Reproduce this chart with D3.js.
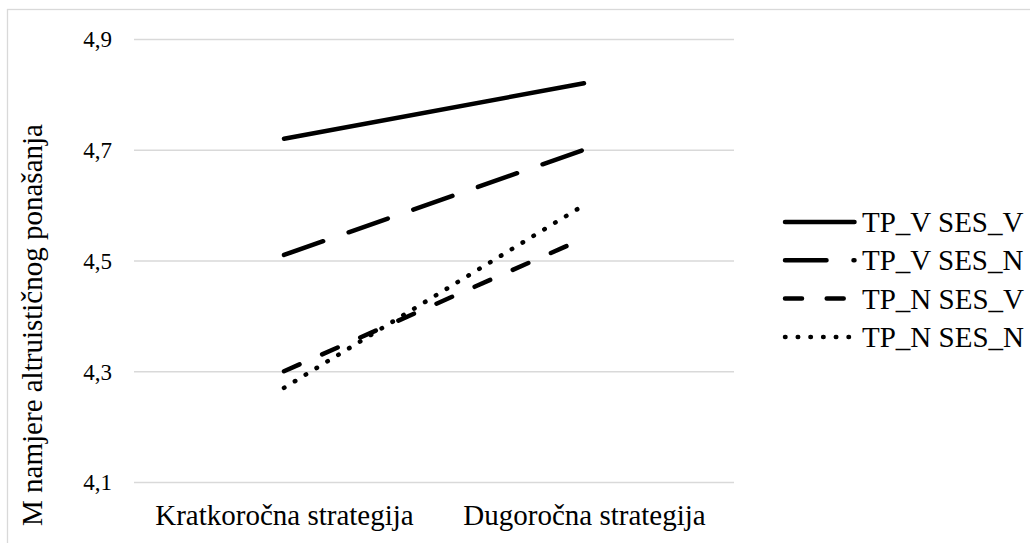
<!DOCTYPE html>
<html>
<head>
<meta charset="utf-8">
<script src="https://cdn.jsdelivr.net/npm/d3@7"></script>
<style>
  html, body { margin: 0; padding: 0; background: #fff; }
  svg { display: block; font-family: "Liberation Serif", "Times New Roman", serif; }
</style>
</head>
<body>
<svg id="chart"></svg>
<script>
// podaci
const kategorije = ["Kratkoročna strategija", "Dugoročna strategija"]
const serije = ["TP_V SES_V", "TP_V SES_N", "TP_N SES_V", "TP_N SES_N"]
const tpvSesv = [4.72, 4.82]
const tpvSesn = [4.51, 4.70]
const tpnSesv = [4.30, 4.54]
const tpnSesn = [4.27, 4.60]
const yTicks = [4.1, 4.3, 4.5, 4.7, 4.9]

const vrijednosti = [tpvSesv, tpvSesn, tpnSesv, tpnSesn]
// crtkanje linija (solid, long dash, dash, round dot)
const crtice = [null, "41.5 27", "17 24.7", "0.5 12.2"]

const svgWidth = 1030
const svgHeight = 543
const margin = { left: 134, right: 300, top: 39, bottom: 61 }
const font = '"Liberation Serif", "Times New Roman", serif'

const svg = d3.select("#chart")
    .attr("width", svgWidth)
    .attr("height", svgHeight)

// okvir grafikona
svg.append("rect")
    .attr("x", 7.5).attr("y", 9.5)
    .attr("width", svgWidth).attr("height", svgHeight)
    .attr("fill", "none")
    .attr("stroke", "#d9d9d9")
    .attr("stroke-width", 1.3)

const xScale = d3.scalePoint()
    .domain(kategorije)
    .range([margin.left, svgWidth - margin.right + 4])
    .padding(0.5)

const yScale = d3.scaleLinear()
    .domain([4.1, 4.9])
    .range([svgHeight - margin.bottom, margin.top])

// Y os s mrežom
const yAxis = svg.append("g")
    .attr("transform", `translate(${margin.left},0)`)
    .call(d3.axisLeft(yScale)
        .tickValues(yTicks)
        .tickSizeInner(-(svgWidth - margin.right + 4 - margin.left))
        .tickSizeOuter(0)
        .tickPadding(22)
        .tickFormat(d => d3.format(".1f")(d).replace(".", ",")))
    .attr("font-family", font)
    .attr("font-size", 23)

yAxis.select(".domain").remove()
yAxis.selectAll("line").attr("stroke", "#d9d9d9").attr("stroke-width", 1.5)
yAxis.selectAll("text")
    .attr("fill", "#000")
    .attr("dy", "0.34em")

// X os
const xAxis = svg.append("g")
    .attr("transform", `translate(0,${svgHeight - margin.bottom})`)
    .call(d3.axisBottom(xScale).tickSize(0).tickPadding(22))
    .attr("font-family", font)
    .attr("font-size", 29)

xAxis.select(".domain").remove()
xAxis.selectAll("text")
    .attr("fill", "#000")
    .attr("dy", "0.71em")

// naslov Y osi
svg.append("text")
    .attr("transform", `translate(42,${(120 + 530) / 2}) rotate(-90)`)
    .attr("text-anchor", "middle")
    .style("font-size", "29px")
    .attr("fill", "#000")
    .text("M namjere altruističnog ponašanja")

// linije
const linija = d3.line()
    .x((d, i) => xScale(kategorije[i]))
    .y(d => yScale(d))

svg.append("g")
    .selectAll("path")
    .data(vrijednosti)
    .join("path")
    .attr("d", d => linija(d))
    .attr("fill", "none")
    .attr("stroke", "#000")
    .attr("stroke-width", 4.5)
    .attr("stroke-linecap", "round")
    .attr("stroke-dasharray", (d, i) => crtice[i])

// legenda
const legenda = svg.append("g")
    .selectAll("g")
    .data(serije)
    .join("g")
    .attr("transform", (d, i) => `translate(785,${222 + i * 38.3})`)

legenda.append("line")
    .attr("x1", 0).attr("x2", 69.5)
    .attr("stroke", "#000")
    .attr("stroke-width", 4.5)
    .attr("stroke-linecap", "round")
    .attr("stroke-dasharray", (d, i) => crtice[i])

legenda.append("text")
    .attr("x", 77)
    .attr("dy", "0.35em")
    .style("font-size", "29px")
    .attr("fill", "#000")
    .text(d => d)
</script>
</body>
</html>
